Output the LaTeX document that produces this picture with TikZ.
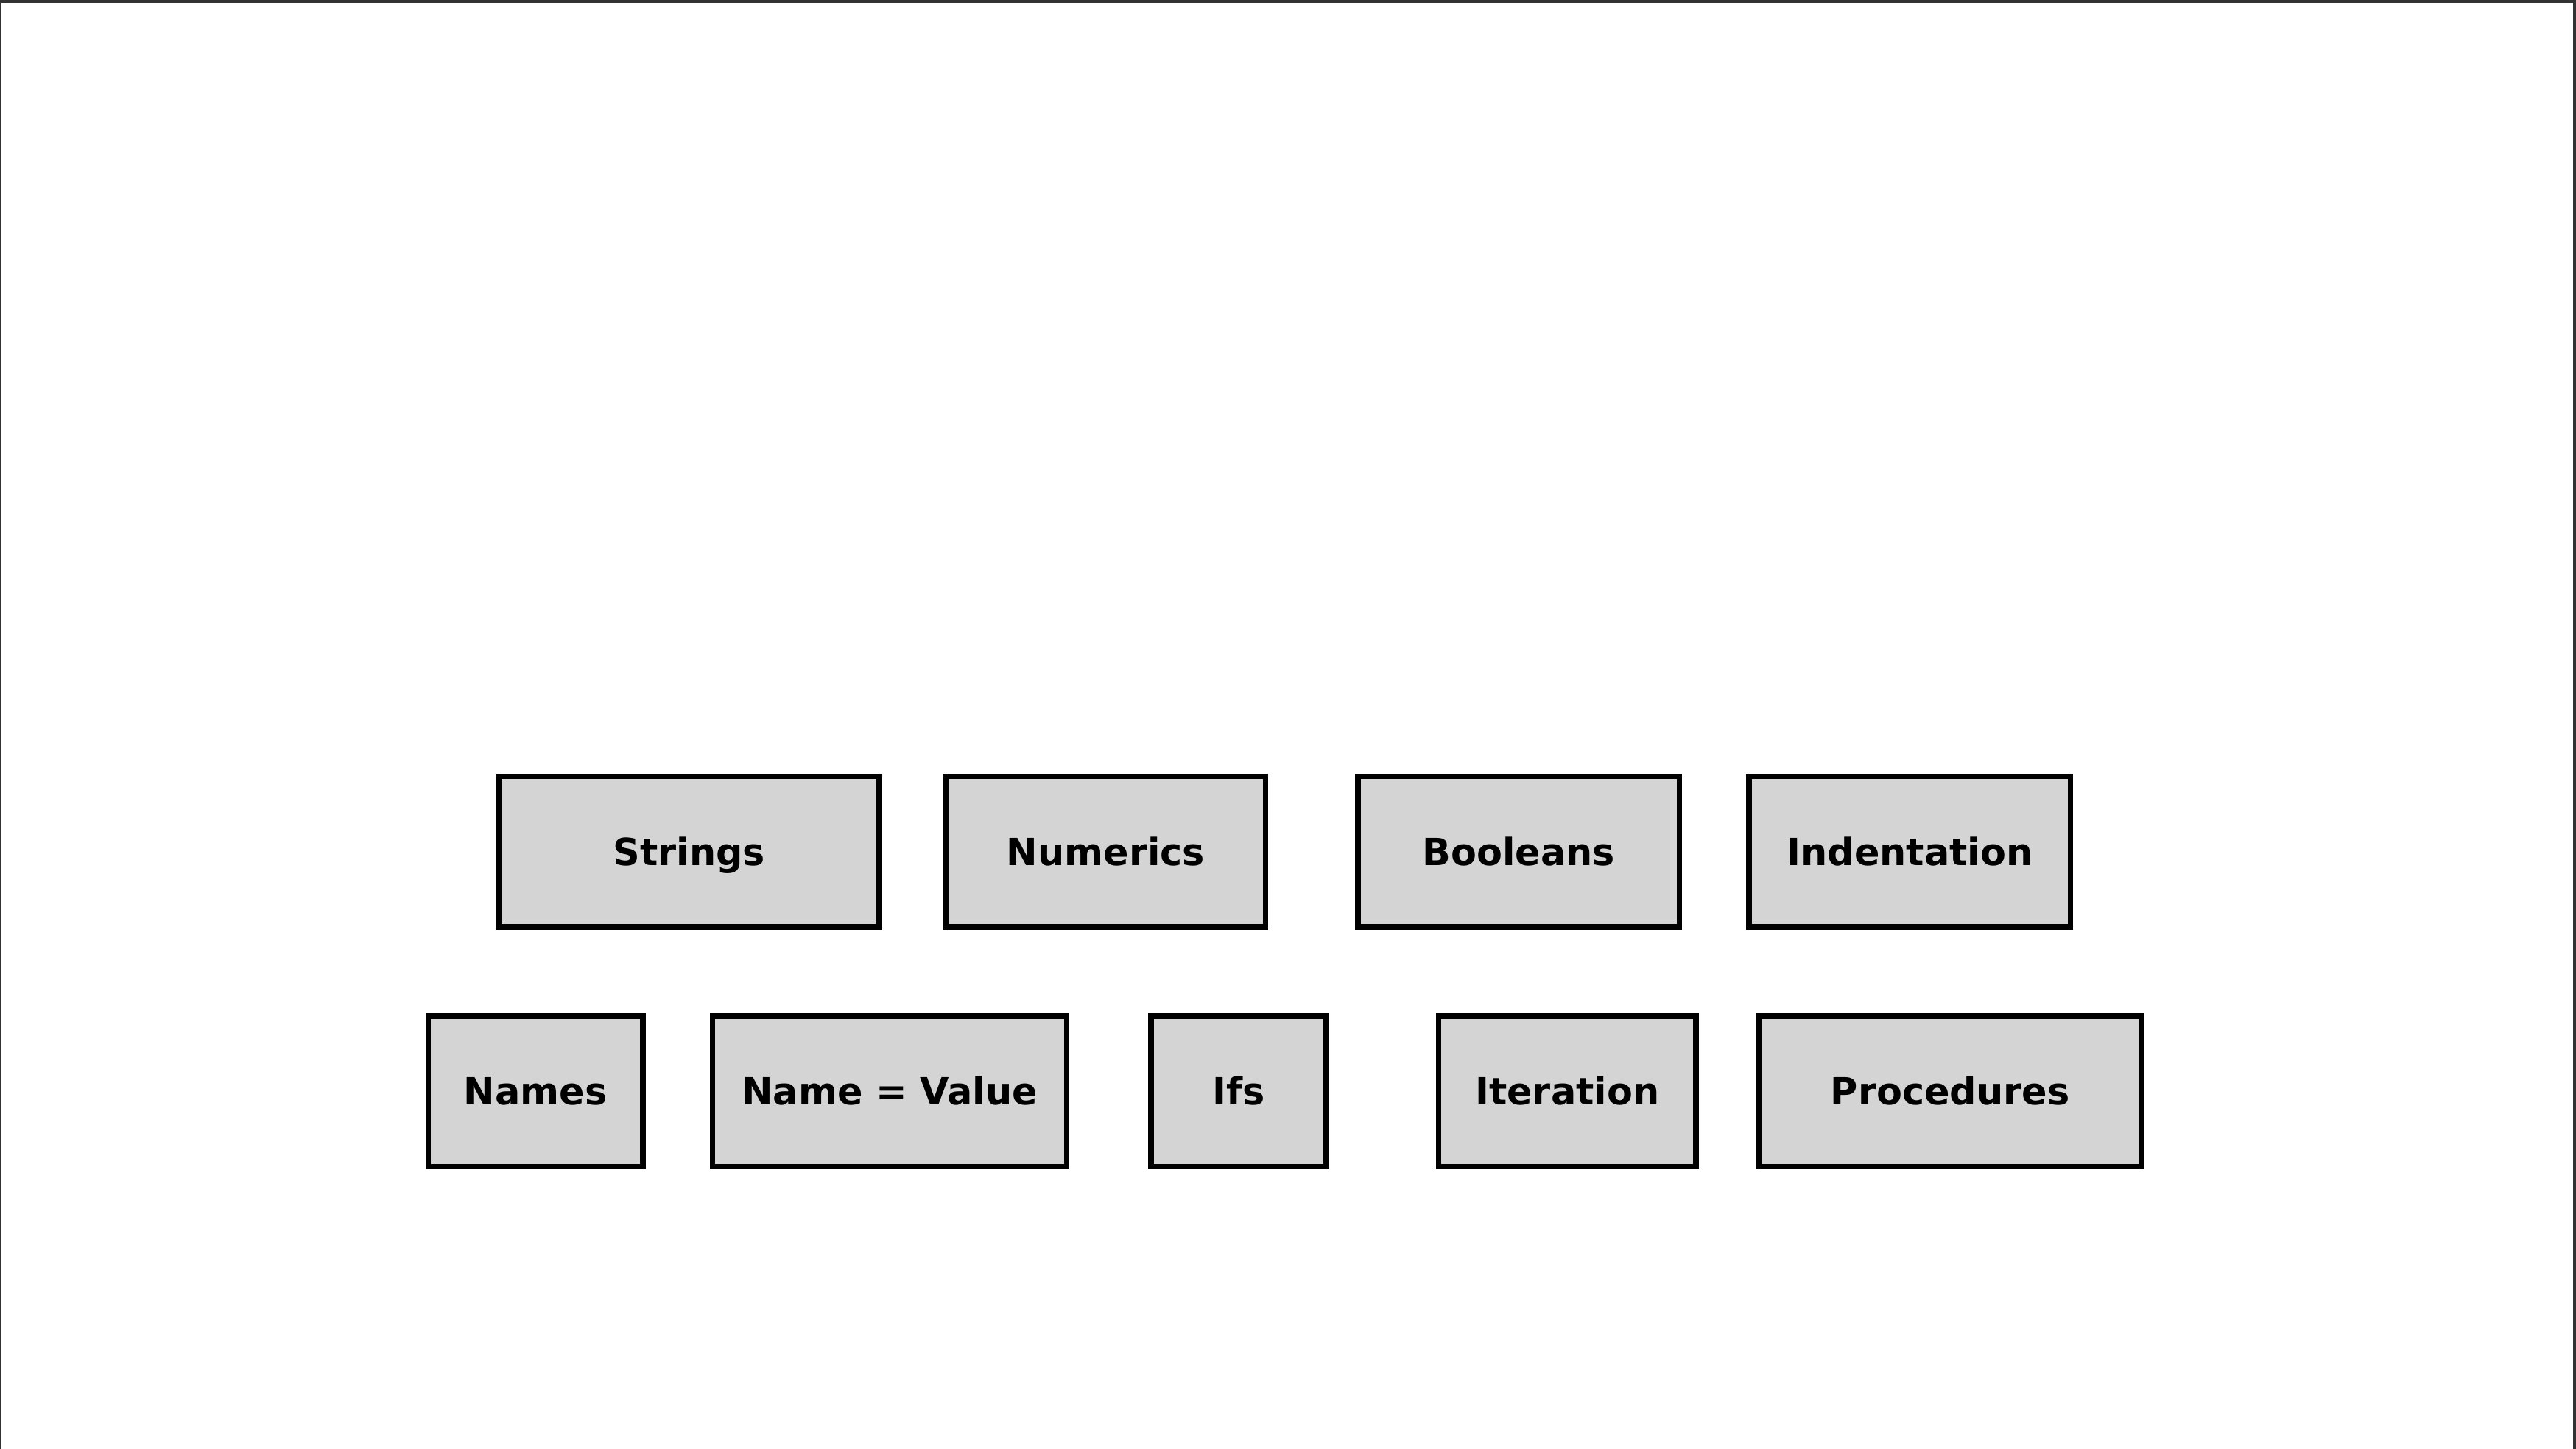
\documentclass[tikz,border=0pt]{standalone}
\usepackage{fontspec}
\setmainfont{DejaVu Sans}
\usepackage{xcolor}
\usetikzlibrary{positioning}
\definecolor{boxgray}{HTML}{D4D4D4}
\definecolor{framegray}{HTML}{333333}

\begin{document}
\begin{tikzpicture}[x=1pt,y=-1pt,node distance=40pt,
  topic/.style={draw,line width=3.4pt,fill=boxgray,inner sep=0pt,
    text height=16.6pt,text depth=0pt,
    minimum height=91.6pt,font=\fontsize{22.8}{27}\selectfont\bfseries}]
  \useasboundingbox (0,0) rectangle (1568,882);
  \draw[framegray,line width=3.6pt] (-0.9,882) -- (-0.9,0) -- (1568,0) -- (1568,882);

  \node [topic, minimum width=231.6pt] (Str) at (419.5,518.5) {Strings};
  \node [topic, minimum width=194.6pt] (Num) [right=37pt of Str] {Numerics};
  \node [topic, minimum width=195.6pt] (Bool) [right=53pt of Num] {Booleans};
  \node [topic, minimum width=195.6pt] (Ind) [right=39pt of Bool] {Indentation};

  \node [topic, minimum width=130.6pt] (Nam) at (326,664.5) {Names};
  \node [topic, minimum width=215.6pt] (NV) [right=39pt of Nam] {Name = Value};
  \node [topic, minimum width=106.6pt] (If) [right=48pt of NV] {Ifs};
  \node [topic, minimum width=156.6pt] (It) [right=65pt of If] {Iteration};
  \node [topic, minimum width=232.6pt] (Proc) [right=35pt of It] {Procedures};
\end{tikzpicture}
\end{document}
